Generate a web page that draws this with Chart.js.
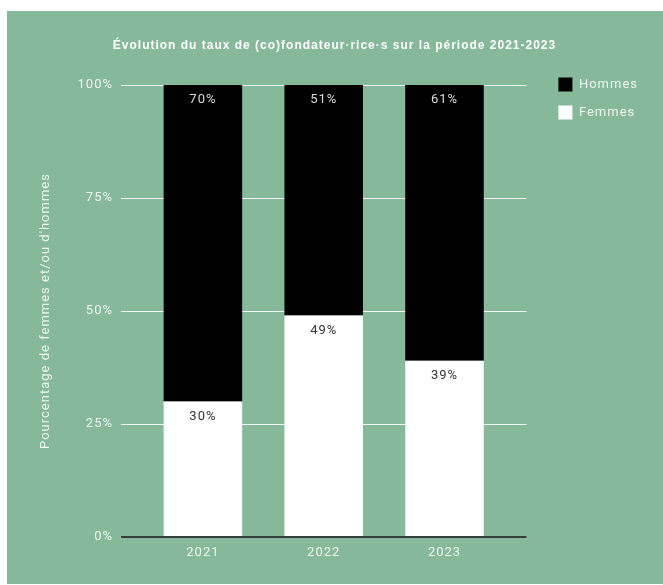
<!DOCTYPE html>
<html lang="fr">
<head>
<meta charset="utf-8">
<script src="https://cdn.jsdelivr.net/npm/chart.js@4.4.1/dist/chart.umd.min.js"></script>
<style>
  body { margin: 0; background: #fff; }
  #wrap { position: absolute; left: 7px; top: 11px; width: 656px; height: 573px; background: #86b89a; }
</style>
</head>
<body>
<div id="wrap"><canvas id="chart"></canvas></div>
<script>
// values
const years = ['2021', '2022', '2023'];
const femmes = [30, 49, 39];
const hommes = [70, 51, 61];
const yTicks = [0, 25, 50, 75, 100];

const light = 'rgba(255,255,255,0.88)';

// the reference text is slightly letter-spaced
const spacing = {
  id: 'spacing',
  beforeUpdate(chart) { chart.ctx.letterSpacing = '1px'; },
  beforeDraw(chart) { chart.ctx.letterSpacing = '1px'; }
};

// draws "xx%" at the top of every segment
const valueLabels = {
  id: 'valueLabels',
  afterDatasetsDraw(chart) {
    const ctx = chart.ctx;
    ctx.save();
    ctx.font = '13px Roboto';
    ctx.textAlign = 'center';
    ctx.textBaseline = 'middle';
    chart.data.datasets.forEach((ds, i) => {
      chart.getDatasetMeta(i).data.forEach((bar, j) => {
        ctx.fillStyle = ds.labelColor;
        ctx.fillText(ds.data[j].y + '%', bar.x, bar.y + 15);
      });
    });
    ctx.restore();
  }
};

new Chart(document.getElementById('chart'), {
  type: 'bar',
  data: {
    datasets: [{
      label: 'Femmes',
      data: years.map((y, i) => ({ x: i + 1, y: femmes[i] })),
      backgroundColor: '#ffffff',
      labelColor: '#333333'
    }, {
      label: 'Hommes',
      data: years.map((y, i) => ({ x: i + 1, y: hommes[i] })),
      backgroundColor: '#000000',
      labelColor: '#dddddd'
    }]
  },
  options: {
    responsive: true,
    maintainAspectRatio: false,
    animation: false,
    barPercentage: 0.65,
    categoryPercentage: 1,
    layout: { padding: { left: 14, right: 15, top: 0, bottom: 0 } },
    plugins: {
      tooltip: { enabled: false },
      title: {
        display: true,
        text: 'Évolution du taux de (co)fondateur·rice·s sur la période 2021-2023',
        color: '#ffffff',
        font: { family: 'Liberation Sans', size: 12, weight: 'bold' },
        padding: { top: 27, bottom: 32.6 }
      },
      legend: {
        position: 'right',
        align: 'start',
        reverse: true,
        title: { display: true, text: ' ', padding: { top: 38, bottom: 0 }, font: { size: 12 } },
        labels: {
          boxWidth: 14,
          boxHeight: 14,
          padding: 14,
          color: light,
          font: { family: 'Roboto', size: 13 }
        }
      }
    },
    scales: {
      x: {
        type: 'linear',
        stacked: true,
        offset: false,
        min: 0.322,
        max: 3.678,
        grid: { display: false, drawTicks: false },
        border: { display: false },
        afterBuildTicks: s => { s.ticks = years.map((y, i) => ({ value: i + 1 })); },
        afterFit: s => { s.height = 47; },
        ticks: {
          padding: 8,
          color: light,
          font: { family: 'Roboto', size: 13 },
          callback: v => years[v - 1]
        }
      },
      y: {
        stacked: true,
        min: 0,
        max: 100,
        afterBuildTicks: s => { s.ticks = yTicks.map(v => ({ value: v })); },
        afterFit: s => { s.width = 100; },
        border: { display: false },
        grid: {
          drawTicks: false,
          color: c => c.tick.value === 0 ? '#3a3a3a' : 'rgba(255,255,255,0.9)',
          lineWidth: c => c.tick.value === 0 ? 2 : 1
        },
        ticks: {
          padding: 8,
          color: light,
          font: { family: 'Roboto', size: 13 },
          callback: v => v + '%'
        },
        title: {
          display: true,
          text: "Pourcentage de femmes et/ou d'hommes",
          color: light,
          font: { family: 'Roboto', size: 13 },
          padding: { top: 17 }
        }
      },
      yRight: {
        position: 'right',
        display: true,
        grid: { display: false },
        border: { display: false },
        ticks: { display: false },
        afterFit: s => { s.width = 18; }
      }
    }
  },
  plugins: [spacing, valueLabels]
});
</script>
</body>
</html>
